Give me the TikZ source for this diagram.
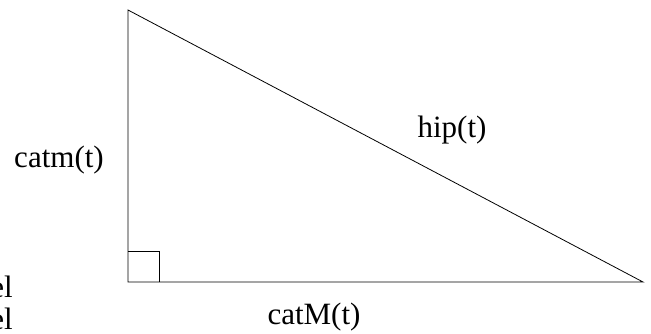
\documentclass[tikz,border=0pt]{standalone}
\usepackage{fontspec}
\setmainfont{Liberation Serif}
\begin{document}
\begin{tikzpicture}[x=1pt,y=-1pt,
  edge/.style={draw=black,line width=0.8pt},
  lbl/.style={font=\fontsize{31}{36}\selectfont,inner sep=0pt},
  sml/.style={font=\fontsize{31}{36}\selectfont,inner sep=0pt,anchor=base east}]
\useasboundingbox (0,0) rectangle (651,333);
\coordinate (A) at (128,10);
\coordinate (C) at (128,282);
\coordinate (B) at (643,282);
\draw[edge,line join=miter] (A) -- (C) -- (B) -- cycle;
\coordinate (S1) at (128,251);
\coordinate (S2) at (159,251);
\coordinate (S3) at (159,282);
\draw[edge] (S1) -- (S2) -- (S3);
\node[lbl] (catm) at (59,160) {catm(t)};
\node[lbl] (hip) at (452,130) {hip(t)};
\node[lbl] (catM) at (314,317) {catM(t)};
\node[sml] (el1) at (13,297) {el};
\node[sml] (el2) at (13,329) {el};
\end{tikzpicture}
\end{document}
